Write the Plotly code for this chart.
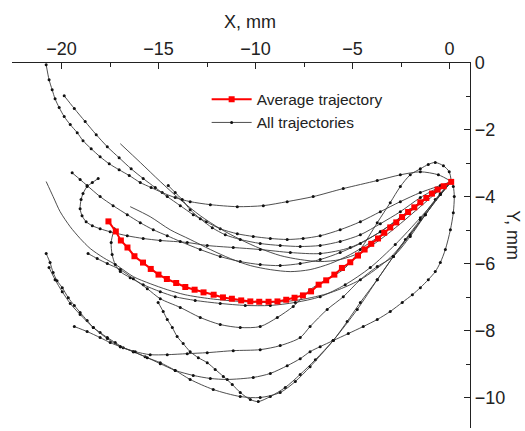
import plotly.graph_objects as go

# Average trajectory (mm)
avg_x = [-17.58, -17.20, -16.94, -16.60, -16.24, -15.80, -15.40, -15.00, -14.57, -14.09,
         -13.62, -13.14, -12.68, -12.16, -11.68, -11.22, -10.74, -10.27, -9.81, -9.33,
         -8.87, -8.42, -7.99, -7.56, -7.14, -6.75, -6.36, -5.94, -5.55, -5.12,
         -4.72, -4.38, -4.04, -3.69, -3.37, -3.06, -2.75, -2.45, -2.14, -1.82,
         -1.51, -1.20, -0.91, -0.62, -0.31, 0.08]
avg_y = [-4.73, -5.03, -5.30, -5.51, -5.77, -5.96, -6.15, -6.32, -6.45, -6.57,
         -6.69, -6.77, -6.85, -6.92, -7.00, -7.04, -7.09, -7.12, -7.13, -7.13,
         -7.12, -7.07, -7.01, -6.94, -6.82, -6.62, -6.49, -6.32, -6.12, -5.95,
         -5.75, -5.57, -5.40, -5.24, -5.07, -4.91, -4.76, -4.60, -4.45, -4.31,
         -4.16, -4.03, -3.90, -3.78, -3.68, -3.55]

# Individual trajectories (mm); every one ends at the common point near (0, -3.55)
t1_x = [-20.79, -20.64, -20.48, -20.33, -20.12, -19.86, -19.55, -19.19, -18.89, -18.47, -18.01,
        -17.54, -17.03, -16.51, -15.94, -15.38, -14.81, -14.14, -13.37, -12.33, -10.94, -9.60,
        -8.37, -7.03, -5.48, -3.73, -2.54, -1.51, -0.58, 0.09]
t1_y = [-0.05, -0.50, -0.80, -1.07, -1.33, -1.60, -1.84, -2.08, -2.32, -2.56, -2.80,
        -3.01, -3.19, -3.36, -3.57, -3.72, -3.87, -4.02, -4.14, -4.23, -4.29, -4.26,
        -4.14, -3.99, -3.75, -3.51, -3.34, -3.25, -3.34, -3.54]

t2_x = [-19.86, -19.34, -18.78, -18.21, -17.64, -17.03, -16.41, -15.79, -15.17, -14.55, -13.88,
        -13.21, -12.54, -11.82, -10.94, -10.12, -9.24, -8.37, -7.55, -6.67, -5.64, -4.60,
        -3.57, -2.54, -1.51, -0.48, 0.09]
t2_y = [-0.98, -1.36, -1.75, -2.14, -2.50, -2.83, -3.16, -3.45, -3.72, -3.99, -4.26,
        -4.53, -4.74, -4.95, -5.10, -5.18, -5.24, -5.27, -5.24, -5.16, -4.98, -4.74,
        -4.44, -4.14, -3.87, -3.66, -3.54]

t3_x = [-16.97, -15.94, -14.91, -13.88, -12.85, -11.82, -10.79, -9.76, -8.73, -7.70, -6.67,
        -5.64, -4.60, -3.57, -2.54, -1.51, -0.48, 0.09]
t3_y = [-2.41, -2.97, -3.54, -4.08, -4.56, -4.95, -5.27, -5.54, -5.75, -5.87, -5.93,
        -5.87, -5.66, -5.27, -4.80, -4.29, -3.78, -3.54]

t4_x = [-14.50, -14.14, -13.78, -13.37, -12.85, -12.23, -11.56, -10.79, -9.76, -8.73, -7.70,
        -6.67, -5.64, -4.60, -3.57, -2.54, -1.51, -0.48, 0.09]
t4_y = [-3.66, -3.87, -4.08, -4.38, -4.65, -4.92, -5.13, -5.27, -5.39, -5.45, -5.48,
        -5.45, -5.33, -5.13, -4.80, -4.44, -4.02, -3.69, -3.54]

t5_x = [-18.11, -18.41, -18.68, -18.89, -18.99, -19.04, -18.94, -18.73, -18.41, -18.01, -17.49,
        -16.61, -15.79, -14.91, -13.52, -12.49, -11.15, -9.76, -8.21, -6.67, -5.12, -3.57,
        -2.03, -0.74, 0.09]
t5_y = [-3.45, -3.57, -3.69, -3.90, -4.08, -4.35, -4.56, -4.74, -4.86, -4.95, -5.04,
        -5.16, -5.24, -5.30, -5.36, -5.45, -5.51, -5.57, -5.66, -5.69, -5.51, -5.04,
        -4.38, -3.84, -3.54]

t6_x = [-19.45, -19.04, -18.68, -18.01, -17.34, -16.61, -15.94, -15.27, -14.55, -13.88, -12.85,
        -11.82, -10.79, -9.76, -8.73, -7.70, -6.67, -5.64, -4.60, -3.57, -2.54, -1.51,
        -0.48, 0.09]
t6_y = [-3.28, -3.48, -3.66, -3.99, -4.26, -4.53, -4.77, -4.98, -5.16, -5.33, -5.57,
        -5.78, -5.93, -6.02, -6.05, -5.99, -5.87, -5.66, -5.39, -5.04, -4.62, -4.14,
        -3.72, -3.54]

t7_x = [-16.46, -15.43, -14.40, -13.37, -12.33, -11.30, -10.27, -9.24, -8.21, -7.19, -6.15,
        -5.12, -4.09, -3.06, -2.03, -0.99, 0.09]
t7_y = [-4.29, -4.59, -4.98, -5.27, -5.57, -5.84, -6.05, -6.17, -6.23, -6.17, -5.99,
        -5.72, -5.36, -4.92, -4.44, -3.96, -3.54]

t8_x = [-20.79, -20.43, -20.07, -19.55, -19.04, -18.52, -17.85, -17.13, -16.30, -15.43, -14.55,
        -13.63, -12.33, -10.79, -9.24, -7.70, -6.15, -4.60, -3.06, -1.77, -0.74, 0.09]
t8_y = [-3.54, -3.99, -4.44, -4.89, -5.24, -5.54, -5.81, -6.05, -6.38, -6.59, -6.77,
        -6.92, -7.04, -7.12, -7.15, -7.07, -6.86, -6.47, -5.81, -4.92, -4.14, -3.54]

t9_x = [-17.28, -17.44, -17.39, -17.23, -16.97, -16.46, -15.79, -14.91, -14.14, -13.11, -11.82,
        -10.53, -9.24, -7.95, -6.67, -5.38, -4.09, -2.80, -1.51, -0.48, 0.09]
t9_y = [-4.95, -5.36, -5.72, -6.02, -6.23, -6.41, -6.62, -6.83, -6.98, -7.09, -7.18,
        -7.24, -7.24, -7.15, -6.98, -6.62, -6.11, -5.42, -4.62, -3.93, -3.54]

t10_x = [-18.63, -18.16, -17.64, -16.97, -16.30, -15.58, -14.91, -13.88, -12.85, -11.82, -10.79,
         -9.76, -8.88, -8.06, -7.19, -6.36, -5.48, -4.60, -3.73, -3.06, -2.54, -2.03,
         -1.51, -1.10, -0.74, -0.32, -0.02, 0.09]
t10_y = [-5.69, -5.84, -5.99, -6.17, -6.44, -6.74, -7.04, -7.30, -7.60, -7.81, -7.90,
         -7.87, -7.60, -7.27, -6.77, -6.47, -6.17, -5.57, -4.77, -4.17, -3.69, -3.34,
         -3.16, -3.03, -2.97, -3.07, -3.25, -3.54]

t11_x = [-15.02, -14.76, -14.55, -14.29, -14.04, -13.73, -13.37, -12.95, -12.49, -12.08, -11.66,
         -11.20, -10.79, -10.27, -9.86, -9.24, -8.47, -7.70, -6.92, -6.00, -5.28, -4.60,
         -3.73, -2.90, -2.28, -1.51, -0.74, 0.09]
t11_y = [-7.15, -7.42, -7.66, -7.90, -8.17, -8.38, -8.62, -8.80, -8.95, -9.15, -9.36,
         -9.60, -9.84, -10.05, -10.11, -9.96, -9.69, -9.30, -8.86, -8.29, -7.72, -7.15,
         -6.47, -5.78, -5.27, -4.68, -4.08, -3.54]

t12_x = [-20.79, -20.59, -20.43, -20.23, -19.96, -19.65, -19.34, -19.04, -18.68, -18.36, -18.01,
         -17.64, -17.23, -16.82, -16.30, -15.69, -14.91, -14.14, -13.21, -12.33, -11.46, -10.12,
         -9.24, -8.37, -7.70, -7.19, -6.67, -6.00, -5.22, -4.45, -3.73, -3.06, -2.44,
         -1.92, -1.51, -1.10, -0.74, -0.48, -0.22, 0.04, 0.19, 0.24, 0.19, 0.09]
t12_y = [-5.69, -5.96, -6.26, -6.50, -6.71, -7.01, -7.24, -7.45, -7.69, -7.90, -8.05,
         -8.20, -8.35, -8.50, -8.62, -8.77, -8.98, -9.18, -9.33, -9.42, -9.45, -9.39,
         -9.27, -9.04, -8.83, -8.62, -8.47, -8.29, -8.08, -7.87, -7.66, -7.42, -7.15,
         -6.92, -6.71, -6.47, -6.23, -5.96, -5.57, -4.98, -4.47, -3.99, -3.69, -3.54]

t13_x = [-20.64, -20.33, -19.96, -19.55, -19.04, -18.36, -17.64, -16.97, -16.30, -15.58, -14.91,
         -14.14, -13.37, -12.18, -10.79, -9.76, -8.73, -7.95, -7.19, -6.00, -4.76, -3.73,
         -2.90, -2.03, -1.25, -0.48, 0.09]
t13_y = [-6.11, -6.47, -6.83, -7.18, -7.51, -7.90, -8.23, -8.47, -8.62, -8.80, -8.95,
         -9.18, -9.45, -9.75, -9.96, -9.99, -9.84, -9.51, -9.07, -8.29, -7.36, -6.47,
         -5.78, -5.13, -4.53, -3.93, -3.54]

t14_x = [-19.34, -18.68, -18.01, -17.49, -16.97, -16.20, -15.43, -14.55, -13.52, -12.49, -11.15,
         -9.76, -8.73, -7.70, -7.19, -6.31, -5.48, -4.60, -3.73, -2.90, -2.03, -1.25,
         -0.48, 0.09]
t14_y = [-7.87, -8.02, -8.20, -8.35, -8.47, -8.62, -8.71, -8.71, -8.68, -8.65, -8.59,
         -8.56, -8.44, -8.20, -7.87, -7.36, -6.98, -6.47, -6.08, -5.78, -5.18, -4.53,
         -3.90, -3.54]

# (x, y, with_markers)
trajectories = [
    (t1_x, t1_y, True), (t2_x, t2_y, True), (t3_x, t3_y, False), (t4_x, t4_y, True),
    (t5_x, t5_y, True), (t6_x, t6_y, True), (t7_x, t7_y, False), (t8_x, t8_y, False),
    (t9_x, t9_y, True), (t10_x, t10_y, True), (t11_x, t11_y, True), (t12_x, t12_y, True),
    (t13_x, t13_y, True), (t14_x, t14_y, True),
]

FONT = "Arial, Liberation Sans, sans-serif"
INK = "#222222"
fig = go.Figure()

for i, (xs, ys, dots) in enumerate(trajectories):
    fig.add_trace(go.Scatter(
        x=xs, y=ys,
        mode="lines+markers" if dots else "lines",
        line=dict(color="#3a3a3a", width=0.9, shape="spline", smoothing=0.8),
        marker=dict(color="#111111", size=3),
        name="All trajectories",
        legendgroup="all",
        showlegend=(i == 0),
        legendrank=2,
    ))

fig.add_trace(go.Scatter(
    x=avg_x, y=avg_y, mode="lines+markers",
    line=dict(color="#ff0000", width=2),
    marker=dict(color="#ff0000", size=6, symbol="square"),
    name="Average trajectory",
    legendrank=1,
))

fig.update_layout(
    width=525, height=431,
    margin=dict(l=12, r=55, t=63, b=3),
    paper_bgcolor="white", plot_bgcolor="white",
    font=dict(family=FONT, size=18, color=INK),
    showlegend=True,
    legend=dict(x=0.425, y=0.946, xanchor="left", yanchor="top",
                bgcolor="rgba(0,0,0,0)", font=dict(size=15.5, color=INK),
                itemwidth=40, tracegroupgap=0),
    xaxis=dict(
        side="top", range=[-22.55, 1.05], showgrid=False, zeroline=False,
        showline=True, linecolor=INK, linewidth=1.3,
        tickmode="array", tickvals=[-20, -15, -10, -5, 0],
        ticks="inside", ticklen=6, tickwidth=1.3, tickcolor=INK,
        minor=dict(tickmode="array", tickvals=[-22.5, -17.5, -12.5, -7.5, -2.5],
                   ticks="inside", ticklen=4, tickwidth=1.3, tickcolor=INK),
    ),
    yaxis=dict(
        side="right", range=[-10.9, 0], showgrid=False, zeroline=False,
        showline=True, linecolor=INK, linewidth=1.3,
        tickmode="array", tickvals=[0, -2, -4, -6, -8, -10],
        ticks="inside", ticklen=6, tickwidth=1.3, tickcolor=INK,
        minor=dict(tickmode="array", tickvals=[-1, -3, -5, -7, -9],
                   ticks="inside", ticklen=4, tickwidth=1.3, tickcolor=INK),
    ),
    annotations=[
        dict(text="X, mm", xref="paper", yref="paper", x=0.52, y=1.112,
             xanchor="center", yanchor="middle", showarrow=False, font=dict(size=18)),
        dict(text="Y, mm", textangle=90, xref="paper", yref="paper",
             x=1.093, y=0.529, xanchor="center", yanchor="middle",
             showarrow=False, font=dict(size=18)),
    ],
)

fig.write_html("out.html")
